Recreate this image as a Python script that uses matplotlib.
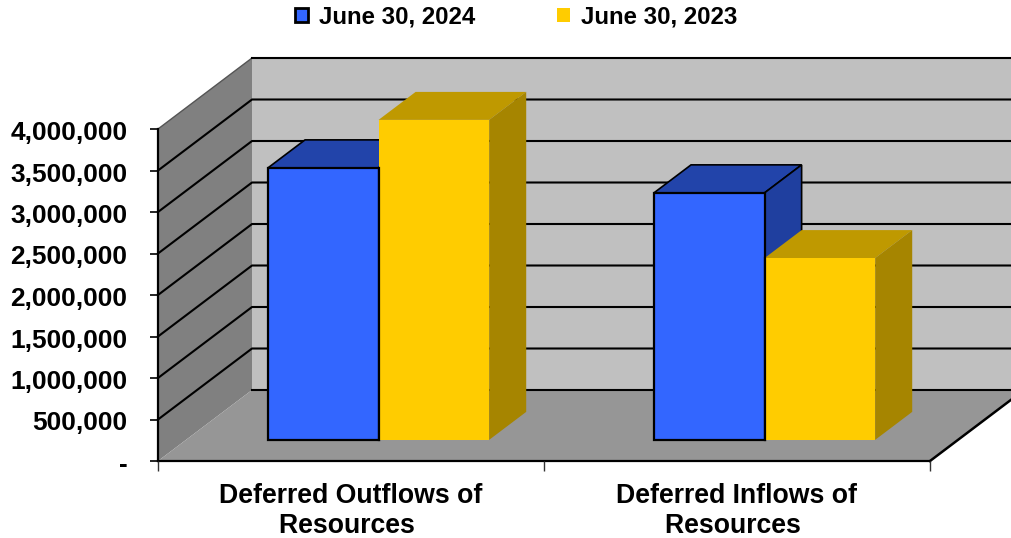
import matplotlib
matplotlib.use("Agg")
import matplotlib.pyplot as plt
from matplotlib.patches import Patch
from matplotlib.transforms import ScaledTranslation

plt.rcParams["font.family"] = ["Liberation Sans", "DejaVu Sans"]
plt.rcParams["font.weight"] = "bold"

# Data
categories = ["Deferred Outflows of\nResources ", "Deferred Inflows of\nResources "]
series_names = ["June 30, 2024", "June 30, 2023"]
values_2024 = [3277000, 2976000]
values_2023 = [3855000, 2190000]
y_ticks = [0, 500000, 1000000, 1500000, 2000000, 2500000, 3000000, 3500000, 4000000]
y_labels = ["-", "500,000", "1,000,000", "1,500,000", "2,000,000",
            "2,500,000", "3,000,000", "3,500,000", "4,000,000"]

# Colours
blue = ["#3366FF", "#2244AA", "#1F3F9F"]
yellow = ["#FFCC00", "#BF9900", "#A68500"]

# Fake 3D: how far a point at full depth moves, in axis units
DX = 94 / 386
DY = 71 / 41.5 * 500000
BAR_D0 = 0.298
BAR_D1 = 0.692
BAR_W = 0.2865
BAR_X0 = 0.2124


def proj(x, v, d):
    return x + d * DX, v + d * DY


def face(ax, points, color, z, edge="none", lw=0):
    xs, ys = zip(*[proj(*p) for p in points])
    ax.fill(xs, ys, facecolor=color, edgecolor=edge, linewidth=lw,
            zorder=z, clip_on=False, joinstyle="miter")


def bar3d(ax, x, v, colors, z, edge):
    x2 = x + BAR_W
    # top, side, then front
    face(ax, [(x, v, BAR_D0), (x2, v, BAR_D0), (x2, v, BAR_D1), (x, v, BAR_D1)],
         colors[1], z, edge, 1.2)
    face(ax, [(x2, 0, BAR_D0), (x2, v, BAR_D0), (x2, v, BAR_D1), (x2, 0, BAR_D1)],
         colors[2], z, edge, 1.2)
    face(ax, [(x, 0, BAR_D0), (x2, 0, BAR_D0), (x2, v, BAR_D0), (x, v, BAR_D0)],
         colors[0], z + 0.1, edge, 1.6)


fig = plt.figure(figsize=(10.12, 5.38), dpi=100)
ax = fig.add_axes([158 / 1012, (538 - 461) / 538, 772 / 1012, 332 / 538])
ax.set_xlim(0, 2)
ax.set_ylim(0, 4000000)
ax.patch.set_visible(False)

# Walls and floor
top = y_ticks[-1]
face(ax, [(3, 0, 1), (0, 0, 1), (0, top, 1), (3, top, 1)], "#C0C0C0", 0.5)
face(ax, [(0, 0, 0), (0, top, 0), (0, top, 1), (0, 0, 1)], "#808080", 0.6)
face(ax, [(0, 0, 0), (2, 0, 0), (2, 0, 1), (0, 0, 1)], "#969696", 0.7)

# Gridlines run along the left wall and across the back wall
for t in y_ticks:
    x_a, y_a = proj(0, t, 0)
    x_b, y_b = proj(0, t, 1)
    x_c, y_c = proj(3, t, 1)
    if t == 0:
        ax.plot([x_b, x_c], [y_b, y_c], color="black", lw=1.5, zorder=0.8, clip_on=False)
    elif t == top:
        ax.plot([x_a, x_b], [y_a, y_b], color="#555555", lw=1, zorder=0.8, clip_on=False)
        ax.plot([x_b, x_c], [y_b, y_c], color="black", lw=1.5, zorder=0.8, clip_on=False)
    else:
        ax.plot([x_a, x_b, x_c], [y_a, y_b, y_c], color="black", lw=1.5, zorder=0.8, clip_on=False)

# Right edge of the floor
x_e, y_e = proj(2, 0, 1)
ax.plot([2, x_e], [0, y_e], color="black", lw=1.8, zorder=0.9, clip_on=False)

# Bars
for i in range(len(categories)):
    z = 2 + i
    bar3d(ax, i + BAR_X0, values_2024[i], blue, z, "black")
    bar3d(ax, i + BAR_X0 + BAR_W, values_2023[i], yellow, z + 0.2, "none")
    # the blue bar's right edge stays visible next to the yellow front
    ax.plot([i + BAR_X0 + BAR_W + BAR_D0 * DX] * 2,
            [BAR_D0 * DY, min(values_2024[i], values_2023[i]) + BAR_D0 * DY],
            color="black", lw=1.6, zorder=z + 0.4, clip_on=False)

# Axes
for name in ["top", "right"]:
    ax.spines[name].set_visible(False)
for name in ["left", "bottom"]:
    ax.spines[name].set_linewidth(1.6)
    ax.spines[name].set_zorder(1)

ax.set_yticks(y_ticks)
ax.set_yticklabels(y_labels, fontsize=18.9, fontweight="bold")
ax.tick_params(axis="y", length=6, width=1.2, pad=16)
# labels sit a touch below their ticks in the original
for label in ax.get_yticklabels():
    label.set_transform(label.get_transform() + ScaledTranslation(0, -1.5 / 100, fig.dpi_scale_trans))

ax.set_xticks([0, 1, 2])
ax.set_xticklabels(["", "", ""])
ax.set_xticks([0.5, 1.5], minor=True)
ax.set_xticklabels(categories, minor=True, fontsize=19.15, fontweight="bold",
                   linespacing=1.22)
ax.tick_params(axis="x", which="major", length=7, width=1, color="#333333")
ax.tick_params(axis="x", which="minor", length=0, pad=15.5)

# Legend
handles = [
    Patch(facecolor=blue[0], edgecolor="black", linewidth=2, label=series_names[0]),
    Patch(facecolor=yellow[0], edgecolor=yellow[0], linewidth=0, label=series_names[1]),
]
fig.legend(handles=handles, loc="center", bbox_to_anchor=(516 / 1012, 1 - 17 / 538),
           ncol=2, frameon=False, prop={"size": 17.3, "weight": "bold"},
           handlelength=0.55, handleheight=0.55, handletextpad=0.45,
           columnspacing=3.4, borderpad=0, borderaxespad=0)

fig.savefig("out.png", dpi=100)
